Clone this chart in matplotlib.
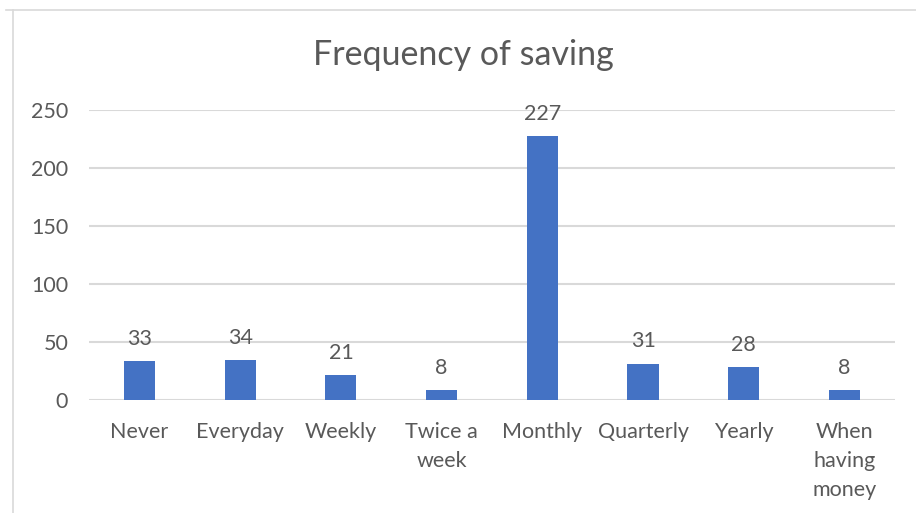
import matplotlib.pyplot as plt
from matplotlib.lines import Line2D

# 貯蓄の頻度
categories = ['Never', 'Everyday', 'Weekly', 'Twice a\nweek', 'Monthly',
              'Quarterly', 'Yearly', 'When\nhaving\nmoney']
counts = [33, 34, 21, 8, 227, 31, 28, 8]
y_ticks = [0, 50, 100, 150, 200, 250]

plt.rcParams['font.family'] = ['Lato', 'DejaVu Sans']
text_color = '#595959'
grid_color = '#D9D9D9'
bar_color = '#4472C4'

fig = plt.figure(figsize=(9.16, 5.13), dpi=100)
ax = fig.add_axes([0.0972, 0.2212, 0.8798, 0.5653])

x = range(len(categories))
bars = ax.bar(x, counts, width=0.31, color=bar_color, zorder=3)

# データラベル
for xi, v in zip(x, counts):
    ax.annotate(str(v), (xi, v), xytext=(0, 9), textcoords='offset points',
                ha='center', va='bottom', fontsize=15.5, color=text_color)

ax.set_xlim(-0.5, len(categories) - 0.5)
ax.set_ylim(0, 250)
ax.set_yticks(y_ticks)
ax.set_xticks(list(x))
ax.set_xticklabels(categories, linespacing=1.55)
ax.tick_params(axis='both', length=0, labelsize=15.5, labelcolor=text_color)
ax.tick_params(axis='x', pad=16.5)
ax.tick_params(axis='y', pad=15)
ax.grid(axis='y', color=grid_color, linewidth=1.5, zorder=0)
for s in ax.spines.values():
    s.set_visible(False)

fig.text(0.506, 0.892, 'Frequency of saving', ha='center', va='center',
         fontsize=24.5, color=text_color)

# グラフ枠
fig.add_artist(Line2D([0.007, 1.0], [0.981, 0.981], transform=fig.transFigure,
                      color='#D9D9D9', linewidth=1.2))
fig.add_artist(Line2D([0.0142, 0.0142], [0.0, 0.981], transform=fig.transFigure,
                      color='#D9D9D9', linewidth=1.2))

fig.savefig('out.png', dpi=100)
